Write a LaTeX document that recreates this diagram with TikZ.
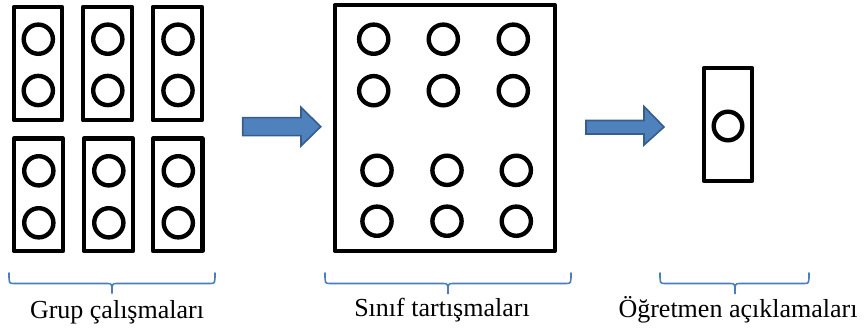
\documentclass[tikz,border=0pt]{standalone}
\usepackage{fontspec}
\setmainfont{Liberation Serif}
\definecolor{arrowfill}{HTML}{4F81BD}
\definecolor{arrowline}{HTML}{385D8A}
\definecolor{bracecol}{HTML}{4A7EBB}
\tikzset{
  desk/.style={draw=black, line width=4.4pt, line join=round},
  seat/.style={draw=black, line width=4.4pt},
  flow/.style={fill=arrowfill, draw=arrowline, line width=1.6pt, line join=miter},
  bracket/.style={draw=bracecol, line width=1.6pt, line cap=round},
  caption/.style={font=\fontsize{26}{28}\selectfont, anchor=base, inner sep=0pt}
}
\begin{document}
\begin{tikzpicture}[x=1pt, y=-1pt]
\useasboundingbox (0,0) rectangle (864,331);

% --- group work: six small tables, two seats each ---
\draw[desk] (13.7,7) rectangle (62,120.3);
\draw[desk] (83,7) rectangle (132,120.3);
\draw[desk] (152.7,7) rectangle (202,120.3);
\draw[desk] (13.7,138.7) rectangle (63,251);
\draw[desk] (83.7,138.7) rectangle (133,251);
\draw[desk] (153,138.7) rectangle (202.3,251);
\foreach \x in {38.3,107.8,178} {
  \draw[seat] (\x,39.2) circle[radius=14.6];
  \draw[seat] (\x,90.5) circle[radius=14.6];
}
\foreach \x in {38.8,108.8,178.3} {
  \draw[seat] (\x,170.8) circle[radius=14.6];
  \draw[seat] (\x,222.8) circle[radius=14.6];
}

% --- class discussion: one large table ---
\draw[desk] (334.7,5.3) rectangle (555,250.7);
\foreach \x in {373.7,443.3,513.3} {
  \draw[seat] (\x,39.2) circle[radius=14.6];
  \draw[seat] (\x,90.7) circle[radius=14.6];
}
\foreach \x in {377,447,516.3} {
  \draw[seat] (\x,170.3) circle[radius=14.6];
  \draw[seat] (\x,221.2) circle[radius=14.6];
}

% --- teacher explanation: single seat ---
\draw[desk] (704,68) rectangle (752,181);
\draw[seat] (728,126) circle[radius=14.3];

% --- block arrows ---
\draw[flow] (242.7,117.7) -- (301,117.7) -- (301,107.3) -- (320.7,126.7)
  -- (301,146) -- (301,135.7) -- (242.7,135.7) -- cycle;
\draw[flow] (586,120.5) -- (644,120.5) -- (644,106.5) -- (664,127)
  -- (644,145) -- (644,134) -- (586,134) -- cycle;

% --- braces ---
\draw[bracket] (9,273) .. controls (9,283.5) .. (14,283.5) -- (107,283.5)
  .. controls (112,283.5) .. (112,293.5) .. controls (112,283.5) .. (117,283.5)
  -- (210,283.5) .. controls (215,283.5) .. (215,273);
\draw[bracket] (325,273) .. controls (325,283.5) .. (330,283.5) -- (443,283.5)
  .. controls (448,283.5) .. (448,294) .. controls (448,283.5) .. (453,283.5)
  -- (566,283.5) .. controls (571,283.5) .. (571,273);
\draw[bracket] (660,273) .. controls (660,283.5) .. (665,283.5) -- (730,283.5)
  .. controls (735,283.5) .. (735,294) .. controls (735,283.5) .. (740,283.5)
  -- (804,283.5) .. controls (809,283.5) .. (809,273);

% --- captions ---
\node[caption] (grp) at (117,318) {Grup çalışmaları};
\node[caption] (cls) at (442,316) {Sınıf tartışmaları};
\node[caption] (tch) at (738,317) {Öğretmen açıklamaları};
\end{tikzpicture}
\end{document}
